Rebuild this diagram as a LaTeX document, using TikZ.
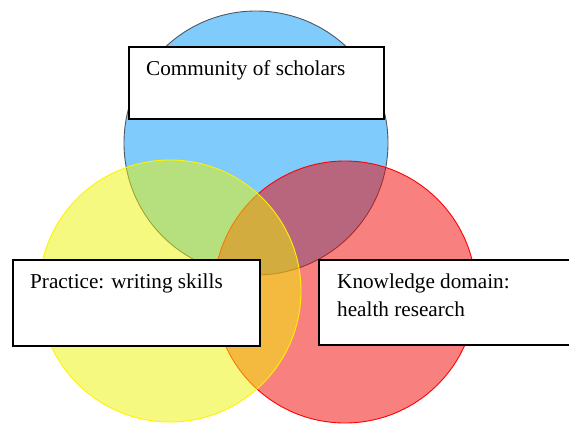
\documentclass[tikz,border=0pt]{standalone}
\usepackage{fontspec}
\setmainfont{Liberation Serif}

\definecolor{cblue}{RGB}{0,152,250}
\definecolor{cred}{RGB}{241,3,0}
\definecolor{cyel}{RGB}{238,243,0}
\definecolor{cedge}{RGB}{80,88,95}

\begin{document}
\begin{tikzpicture}[x=1pt, y=-1pt,
    venn/.style={fill opacity=0.5, line width=0.9pt},
    lbox/.style={draw, fill=white, line width=1.5pt, anchor=north west,
      inner sep=0pt, minimum height=#1},
    ltxt/.style={anchor=base west, inner sep=0pt, align=left,
      font=\fontsize{21.2}{28}\selectfont}]
  \useasboundingbox (0,0) rectangle (569,423);
  % the three sets, back to front
  \filldraw[venn, fill=cblue, draw=cedge] (256,143) coordinate (comm0) circle[radius=132pt];
  \filldraw[venn, fill=cred, draw=red] (345,292) coordinate (know0) circle[radius=131pt];
  \filldraw[venn, fill=cyel, draw=yellow] (170,291) coordinate (prac0) circle[radius=131pt];
  % label boxes
  \node[lbox=72pt, minimum width=255pt] (comm) at (128,46) {};
  \node[lbox=86pt, minimum width=247pt] (prac) at (12,259) {};
  \node[lbox=85pt, minimum width=260pt] (know) at (318,259) {};
  \node[ltxt] (commtxt) at (comm.north west) [xshift=18pt, yshift=-29pt] {Community of scholars};
  \node[ltxt] (practxt) at (prac.north west) [xshift=18pt, yshift=-29pt] {Practice: writing skills};
  % base sits on the second line here
  \node[ltxt] (knowtxt) at (know.north west) [xshift=19pt, yshift=-57pt] {Knowledge domain:\\health research};
\end{tikzpicture}
\end{document}
